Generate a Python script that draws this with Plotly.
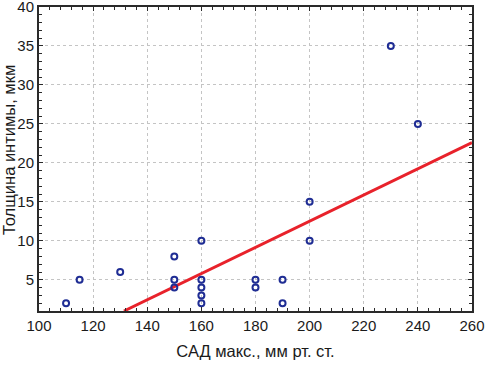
import plotly.graph_objects as go

sad = [110, 115, 130, 150, 150, 150, 160, 160, 160, 160, 160, 180, 180, 190, 190, 200, 200, 230, 240]
thickness = [2, 5, 6, 8, 5, 4, 10, 5, 4, 3, 2, 5, 4, 5, 2, 15, 10, 35, 25]
fit_x = [131.4, 260]
fit_y = [1.0, 22.6]
x_ticks = [100, 120, 140, 160, 180, 200, 220, 240, 260]
y_ticks = [5, 10, 15, 20, 25, 30, 35, 40]
x_title = "САД макс., мм рт. ст."
y_title = "Толщина интимы, мкм"

fig = go.Figure()
fig.add_trace(go.Scatter(x=fit_x, y=fit_y, mode="lines",
                         line=dict(color="#e8222b", width=3), showlegend=False,
                         cliponaxis=True))
fig.add_trace(go.Scatter(x=sad, y=thickness, mode="markers",
                         marker=dict(symbol="circle-open", size=6, color="#1f2d94",
                                     line=dict(width=2, color="#1f2d94")),
                         showlegend=False, cliponaxis=False))

tick_font = dict(family="Liberation Sans, Arial, sans-serif", size=15, color="#1a1a1a")
title_font = dict(family="Liberation Sans, Arial, sans-serif", size=16.5, color="#1a1a1a")
axis_common = dict(showline=True, linecolor="#2a2a2a", linewidth=2, mirror="ticks",
                   showgrid=True, gridcolor="#c4c4c4", griddash="dot", gridwidth=1,
                   ticks="inside", ticklen=4, tickcolor="#2a2a2a", tickwidth=1,
                   zeroline=False, tickfont=tick_font, automargin=False,
                   ticklabeloverflow="allow")

fig.update_xaxes(range=[100, 260], tickvals=x_ticks, ticktext=[str(v) for v in x_ticks],
                 title=dict(text=x_title, font=title_font, standoff=12),
                 minor=dict(dtick=4, ticks="inside", ticklen=3, tickcolor="#2a2a2a", showgrid=False),
                 **axis_common)
fig.update_yaxes(range=[1, 40], tickvals=y_ticks, ticktext=[str(v) for v in y_ticks],
                 minor=dict(dtick=1, ticks="inside", ticklen=3, tickcolor="#2a2a2a", showgrid=False),
                 **axis_common)

fig.add_annotation(text=y_title, textangle=-90, font=title_font, showarrow=False,
                   xref="paper", yref="paper", x=-0.069, y=0.53,
                   xanchor="center", yanchor="middle")

fig.update_layout(width=486, height=366, margin=dict(l=39, r=14, t=7, b=55),
                  plot_bgcolor="white", paper_bgcolor="white", font=tick_font)
fig.write_html("out.html", config={"displayModeBar": False},
               post_script="document.body.style.margin='0';document.body.style.padding='0';")
